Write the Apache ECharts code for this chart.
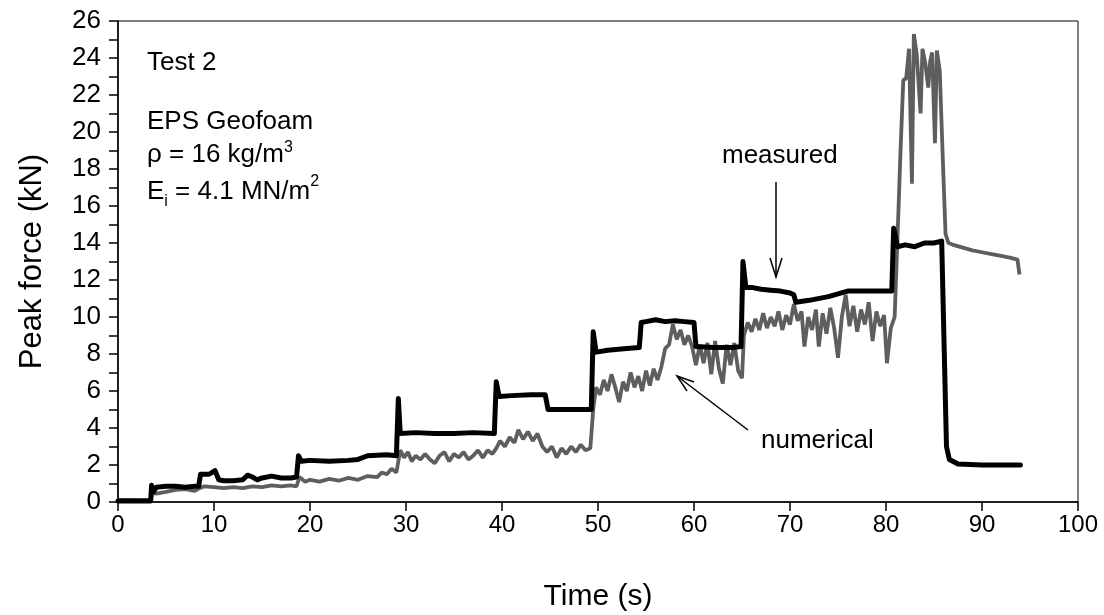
<!DOCTYPE html>
<html>
<head>
<meta charset="utf-8">
<script src="https://cdn.jsdelivr.net/npm/echarts@6/dist/echarts.min.js"></script>
<style>
  html, body { margin: 0; padding: 0; background: #fff; }
  #chart { width: 1104px; height: 615px; }
</style>
</head>
<body>
<div id="chart"></div>
<script>
// 측정값 (time s, peak force kN)
const measured = [
  [0, 0.05], [3.4, 0.05], [3.5, 0.9], [3.7, 0.55], [4, 0.8], [5, 0.85], [6, 0.85], [7, 0.8],
  [8, 0.85], [8.4, 0.85], [8.6, 1.5], [9.5, 1.5], [10.1, 1.7], [10.5, 1.2], [11, 1.15], [12, 1.15],
  [13, 1.2], [13.5, 1.45], [14, 1.35], [14.5, 1.2], [15, 1.3], [16, 1.4], [17, 1.3], [18, 1.3],
  [18.6, 1.35], [18.8, 2.5], [19.1, 2.2], [20, 2.25], [22, 2.2], [24, 2.25], [25, 2.3], [26, 2.5],
  [28, 2.55], [29, 2.5], [29.2, 5.6], [29.4, 3.7], [31, 3.75], [33, 3.7], [35, 3.7], [37, 3.75],
  [39.2, 3.7], [39.4, 6.5], [39.7, 5.7], [41, 5.75], [43, 5.8], [44.5, 5.8], [44.8, 5.0], [46, 5.0],
  [48, 5.0], [49.3, 5.0], [49.5, 9.2], [49.8, 8.1], [51, 8.2], [53, 8.3], [54.3, 8.35], [54.5, 9.7],
  [55, 9.75], [56, 9.85], [57, 9.75], [58, 9.8], [59, 9.75], [60, 9.7], [60.2, 8.4], [62, 8.35],
  [64, 8.35], [64.9, 8.4], [65.1, 13.0], [65.4, 11.6], [66, 11.6], [67, 11.5], [68, 11.45], [69, 11.4],
  [70, 11.3], [70.4, 11.2], [70.6, 10.8], [72, 10.9], [74, 11.1], [76, 11.4], [78, 11.4], [80, 11.4],
  [80.6, 11.4], [80.8, 14.8], [81.2, 13.8], [82, 13.9], [83, 13.8], [84, 14.0], [85, 14.0], [85.8, 14.1],
  [86.3, 3.0], [86.6, 2.3], [87.5, 2.05], [90, 2.0], [94, 2.0]
];

// 수치해석 결과
const numerical = [
  [0, 0.1], [1, 0.12], [2, 0.1], [3, 0.1], [3.4, 0.1], [3.6, 0.5], [4, 0.45], [5, 0.55], [6, 0.65],
  [7, 0.7], [8, 0.6], [8.5, 0.75], [9, 0.85], [10, 0.8], [11, 0.75], [12, 0.8], [13, 0.75], [14, 0.85],
  [15, 0.8], [16, 0.9], [17, 0.85], [18, 0.9], [18.6, 0.85], [18.9, 1.35], [19.5, 1.1], [20, 1.2],
  [21, 1.1], [22, 1.25], [23, 1.15], [24, 1.3], [25, 1.2], [26, 1.4], [27, 1.35], [27.5, 1.6], [28, 1.5],
  [28.5, 1.8], [29, 1.6], [29.2, 1.5], [29.4, 2.8], [29.8, 2.4], [30.2, 2.7], [30.6, 2.2], [31, 2.5],
  [31.5, 2.3], [32, 2.6], [32.5, 2.3], [33, 2.1], [33.5, 2.5], [34, 2.7], [34.5, 2.2], [35, 2.6],
  [35.5, 2.4], [36, 2.7], [36.5, 2.3], [37, 2.5], [37.5, 2.8], [38, 2.4], [38.5, 2.8], [39, 2.6],
  [39.4, 2.9], [39.8, 3.3], [40.3, 3.0], [40.8, 3.5], [41.3, 3.2], [41.7, 3.9], [42.2, 3.4], [42.7, 3.8],
  [43.2, 3.3], [43.7, 3.7], [44.2, 3.0], [44.7, 2.7], [45.2, 3.0], [45.7, 2.4], [46.2, 2.9], [46.7, 2.6],
  [47.2, 3.0], [47.7, 2.7], [48.2, 3.1], [48.7, 2.8], [49.2, 2.9], [49.5, 5.0], [49.8, 6.2], [50.2, 5.8],
  [50.6, 6.6], [51, 6.0], [51.4, 6.9], [51.8, 6.2], [52.2, 5.4], [52.6, 6.5], [53, 6.0], [53.4, 7.0],
  [53.8, 6.2], [54.2, 6.8], [54.6, 6.0], [55, 7.1], [55.4, 6.3], [55.8, 7.2], [56.2, 6.6], [56.6, 7.3],
  [57, 8.3], [57.4, 8.5], [57.8, 9.6], [58.2, 8.8], [58.6, 9.3], [59, 8.5], [59.4, 9.0], [59.8, 8.4],
  [60.2, 7.4], [60.6, 8.5], [61, 7.5], [61.4, 8.6], [61.8, 6.9], [62.2, 8.7], [62.6, 7.2], [63, 6.4],
  [63.4, 8.5], [63.8, 7.4], [64.2, 8.6], [64.6, 7.1], [65, 6.7], [65.2, 9.0], [65.6, 9.7], [66, 9.2],
  [66.4, 9.9], [66.8, 9.3], [67.2, 10.2], [67.6, 9.4], [68, 10.0], [68.4, 9.5], [68.8, 10.3], [69.2, 9.3],
  [69.6, 10.1], [70, 9.6], [70.4, 10.7], [70.8, 9.8], [71.2, 10.3], [71.5, 8.4], [71.9, 10.0], [72.3, 9.3],
  [72.7, 10.4], [73, 8.4], [73.4, 10.2], [73.8, 9.1], [74.2, 10.5], [74.6, 9.4], [75, 7.8], [75.4, 10.0],
  [75.8, 11.2], [76.2, 9.5], [76.6, 10.6], [77, 9.2], [77.4, 10.4], [77.8, 9.6], [78.2, 10.8], [78.6, 8.7],
  [79, 10.3], [79.4, 9.5], [79.8, 10.1], [80.1, 7.5], [80.5, 9.4], [80.9, 10.0], [81.2, 14.3], [81.5, 18.8],
  [81.8, 22.8], [82.1, 22.9], [82.4, 24.5], [82.7, 17.2], [82.9, 25.3], [83.2, 24.2], [83.6, 21.0],
  [83.8, 24.5], [84.1, 23.7], [84.4, 22.4], [84.6, 23.8], [84.8, 24.3], [85.1, 19.4], [85.3, 24.4],
  [85.6, 23.3], [85.9, 18.8], [86.2, 14.5], [86.5, 14.0], [87, 13.9], [88, 13.75], [89, 13.6], [90, 13.5],
  [91, 13.4], [92, 13.3], [93, 13.2], [93.7, 13.1], [93.9, 12.3]
];

const FONT = 'Liberation Sans, Arial, sans-serif';

const chart = echarts.init(document.getElementById('chart'));

chart.setOption({
  backgroundColor: '#fff',
  animation: false,
  grid: {
    left: 118, right: 26, top: 21, bottom: 113,
    outerBoundsMode: 'none', containLabel: false,
    show: true, borderColor: '#000', borderWidth: 1, backgroundColor: 'transparent'
  },
  xAxis: {
    type: 'value', min: 0, max: 100, interval: 10,
    name: 'Time (s)', nameLocation: 'middle', nameGap: 80,
    nameTextStyle: { fontFamily: FONT, fontSize: 30, color: '#000' },
    axisLine: { lineStyle: { color: '#000', width: 1.5 } },
    axisTick: { inside: false, length: 9, lineStyle: { color: '#000', width: 1.5 } },
    axisLabel: { fontFamily: FONT, fontSize: 24, color: '#000', margin: 11 },
    splitLine: { show: false }
  },
  yAxis: {
    type: 'value', min: 0, max: 26, interval: 2,
    name: 'Peak force (kN)', nameLocation: 'middle', nameGap: 70, nameRotate: 90,
    nameTextStyle: { fontFamily: FONT, fontSize: 31, color: '#000' },
    axisLine: { lineStyle: { color: '#000', width: 1.5 } },
    axisTick: { inside: false, length: 9, lineStyle: { color: '#000', width: 1.5 } },
    minorTick: { show: true, splitNumber: 2, length: 9, lineStyle: { color: '#000', width: 1.5 } },
    axisLabel: { fontFamily: FONT, fontSize: 26, color: '#000', margin: 17 },
    splitLine: { show: false }
  },
  series: [
    {
      name: 'numerical', type: 'line', data: numerical,
      showSymbol: false, smooth: false,
      lineStyle: { color: '#5e5e5e', width: 3.8 },
      z: 2
    },
    {
      name: 'measured', type: 'line', data: measured,
      showSymbol: false, smooth: false,
      lineStyle: { color: '#000', width: 5, join: 'round', cap: 'round' },
      z: 3
    }
  ],
  graphic: [
    { type: 'text', left: 147, top: 50, style: { text: 'Test 2', font: '26px ' + FONT, fill: '#000' } },
    { type: 'text', left: 147, top: 109, style: { text: 'EPS Geofoam', font: '26px ' + FONT, fill: '#000' } },
    {
      type: 'text', left: 147, top: 140,
      style: {
        text: 'ρ = 16 kg/m{sup|3}', font: '26px ' + FONT, fill: '#000',
        rich: { sup: { fontSize: 16, fontFamily: FONT, verticalAlign: 'top', lineHeight: 30 } }
      }
    },
    {
      type: 'text', left: 147, top: 174,
      style: {
        text: 'E{sub|i} = 4.1 MN/m{sup|2}', font: '26px ' + FONT, fill: '#000',
        rich: {
          sub: { fontSize: 16, fontFamily: FONT, verticalAlign: 'bottom', lineHeight: 36 },
          sup: { fontSize: 16, fontFamily: FONT, verticalAlign: 'top', lineHeight: 30 }
        }
      }
    },
    { type: 'text', left: 722, top: 143, style: { text: 'measured', font: '26px ' + FONT, fill: '#000' } },
    { type: 'text', left: 761, top: 428, style: { text: 'numerical', font: '26px ' + FONT, fill: '#000' } },
    // 화살표
    { type: 'line', shape: { x1: 776, y1: 182, x2: 776, y2: 277 }, style: { stroke: '#000', lineWidth: 1.5 } },
    { type: 'polyline', shape: { points: [[770, 258], [776, 277], [782, 258]] }, style: { stroke: '#000', lineWidth: 1.5, fill: null } },
    { type: 'line', shape: { x1: 748, y1: 430, x2: 677, y2: 376 }, style: { stroke: '#000', lineWidth: 1.5 } },
    { type: 'polyline', shape: { points: [[687, 391], [677, 376], [694, 382]] }, style: { stroke: '#000', lineWidth: 1.5, fill: null } }
  ]
});
</script>
</body>
</html>
